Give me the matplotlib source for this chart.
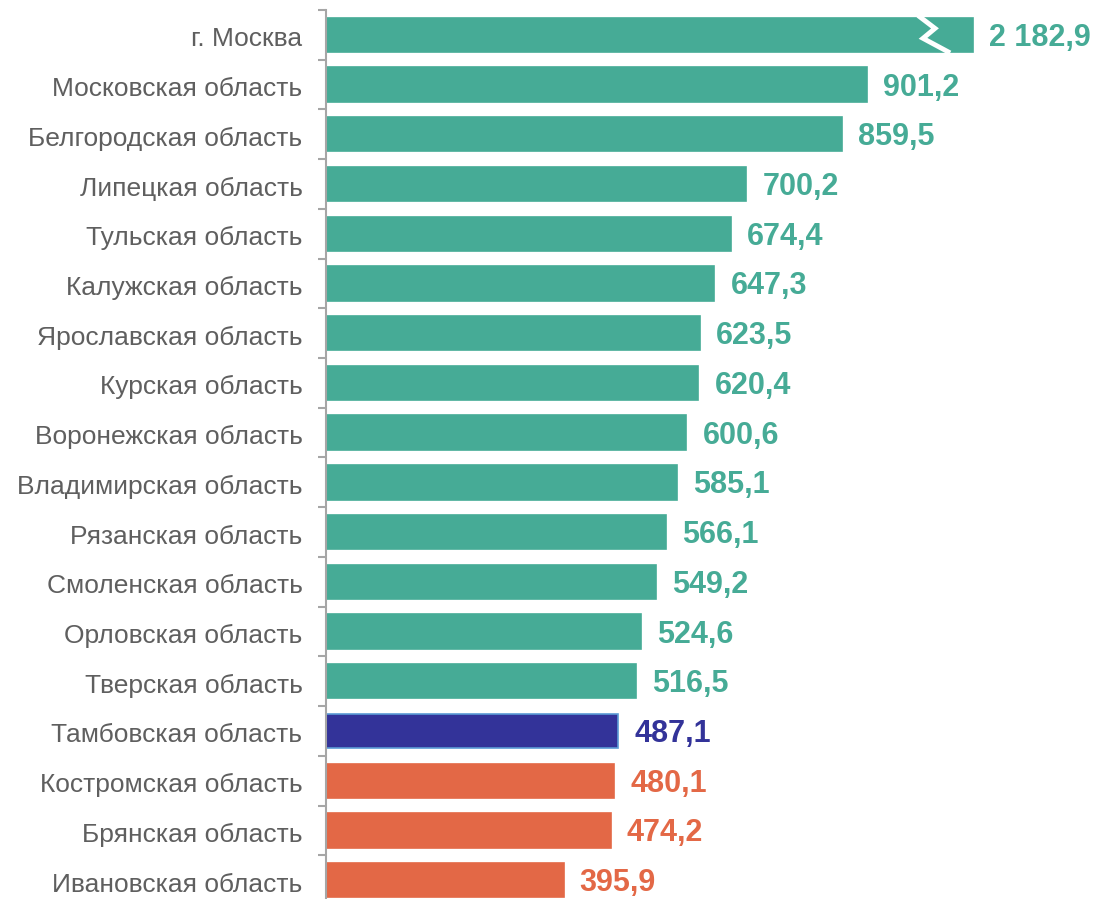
import numpy as np
import matplotlib.pyplot as plt

plt.rcParams['font.family'] = ['Liberation Sans', 'DejaVu Sans']

# Data
regions = ['г. Москва', 'Московская область', 'Белгородская область', 'Липецкая область',
           'Тульская область', 'Калужская область', 'Ярославская область', 'Курская область',
           'Воронежская область', 'Владимирская область', 'Рязанская область',
           'Смоленская область', 'Орловская область', 'Тверская область',
           'Тамбовская область', 'Костромская область', 'Брянская область',
           'Ивановская область']
values = [2182.9, 901.2, 859.5, 700.2, 674.4, 647.3, 623.5, 620.4, 600.6, 585.1,
          566.1, 549.2, 524.6, 516.5, 487.1, 480.1, 474.2, 395.9]
groups = ['above'] * 14 + ['tambov'] + ['below'] * 3

colors = {'above': '#46AB96', 'tambov': '#333399', 'below': '#E36846'}
edges = {'above': '#46AB96', 'tambov': '#5B9BD5', 'below': '#E36846'}

cap = 1078  # the Moscow bar is drawn shortened with a break mark
shown = [min(v, cap) for v in values]

fig = plt.figure(figsize=(10.99, 8.99), dpi=100)
ax = fig.add_axes([326 / 1099, (899 - 905) / 899, 773 / 1099, 895 / 899])

y = np.arange(len(regions))
ax.barh(y, shown, height=0.69, color=[colors[g] for g in groups],
        edgecolor=[edges[g] for g in groups], linewidth=1.2)

for yi, v, s, g in zip(y, values, shown, groups):
    txt = f'{v:,.1f}'.replace(',', ' ').replace('.', ',')
    ax.text(s + 27, yi + 0.06, txt, va='center', ha='left', fontsize=22,
            fontweight='bold', color=colors[g])

# break mark on the shortened bar
bx = np.array([920, 935, 923, 948]) - 326
by = np.array([-0.36, -0.13, 0.07, 0.34])
ax.plot(bx / 0.6, by, color='white', lw=3.5, solid_joinstyle='miter')

ax.set_xlim(0, 773 / 0.6)
ax.set_ylim(len(regions) - 0.5, -0.5)

ax.set_yticks(y + 0.04)
ax.set_yticklabels(regions, fontsize=19, color='#5F5F5F')
ax.tick_params(axis='y', which='major', length=0, pad=17)
ax.set_yticks(np.arange(-0.5, len(regions), 1.0), minor=True)
ax.tick_params(axis='y', which='minor', length=6, width=1.5, color='#A6A6A6')
ax.set_xticks([])

for sp in ['top', 'right', 'bottom']:
    ax.spines[sp].set_visible(False)
ax.spines['left'].set_color('#A6A6A6')
ax.spines['left'].set_linewidth(1.5)

fig.savefig('out.png', dpi=100)
